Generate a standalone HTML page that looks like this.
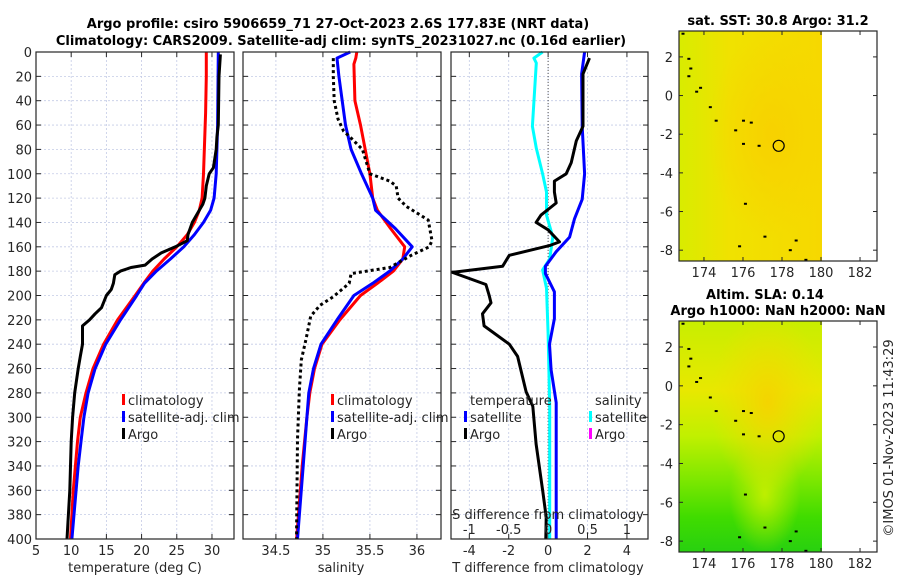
<!DOCTYPE html>
<html><head><meta charset="utf-8">
<style>
html,body{margin:0;padding:0;background:#fff;}
svg{display:block;font-family:"DejaVu Sans","Liberation Sans",sans-serif;}
</style></head>
<body>
<svg id="fig" width="900" height="580" viewBox="0 0 900 580" xmlns="http://www.w3.org/2000/svg">
<defs>
<linearGradient id="sstGrad" x1="0" y1="0" x2="1" y2="0">
<stop offset="0" stop-color="#d8ec00"/><stop offset="0.35" stop-color="#f0e200"/><stop offset="1" stop-color="#f6d800"/>
</linearGradient>
<radialGradient id="sstHot" cx="0.65" cy="0.45" r="0.45">
<stop offset="0" stop-color="#f8d000" stop-opacity="0.9"/><stop offset="1" stop-color="#f8d000" stop-opacity="0"/>
</radialGradient>
<linearGradient id="slaGrad" x1="0" y1="0" x2="0" y2="1">
<stop offset="0" stop-color="#c8ee00"/><stop offset="0.3" stop-color="#e8e800"/><stop offset="0.5" stop-color="#c0f000"/>
<stop offset="0.68" stop-color="#80e800"/><stop offset="0.85" stop-color="#40dc00"/><stop offset="1" stop-color="#28d010"/>
</linearGradient>
<radialGradient id="slaHot" cx="0.62" cy="0.35" r="0.4">
<stop offset="0" stop-color="#f4d400" stop-opacity="1"/><stop offset="1" stop-color="#f0e000" stop-opacity="0"/>
</radialGradient>
<radialGradient id="slaMid" cx="0.6" cy="0.75" r="0.25">
<stop offset="0" stop-color="#c8f000" stop-opacity="0.9"/><stop offset="1" stop-color="#c8f000" stop-opacity="0"/>
</radialGradient>
</defs>
<g id="layer"></g>
</svg>
<script>
// ---------- DATA ----------
const tempClimDepth = [0,20,50,100,120,130,140,150,160,170,180,190,200,220,240,260,280,300,320,340,360,380,400];
const tempClim      = [29.2,29.2,29.1,28.8,28.6,28.2,27.5,26.5,25,23.2,21.6,20.3,19.1,16.6,14.6,13.1,12.1,11.3,10.9,10.6,10.3,10.1,9.9];
const tempSatDepth  = [0,60,100,120,130,140,150,160,170,180,190,200,220,240,260,280,300,320,340,360,380,400];
const tempSat       = [30.9,30.8,30.6,30.3,29.8,28.8,27.5,26,24.1,22.1,20.4,19.3,17,14.9,13.4,12.4,11.8,11.4,11,10.7,10.4,10.1];
const tempArgoDepth = [2,20,60,70,80,95,100,110,120,125,130,140,150,155,160,165,170,175,177,180,183,190,195,200,210,215,220,225,240,250,260,280,300,320,340,360,380,400];
const tempArgo      = [31.2,31,30.9,30.7,30.6,30.2,29.6,29.2,29,28.7,28.2,27.2,26.6,26.5,24.8,22.8,21.5,20.5,18.5,17,16.2,16,15.7,15,14.3,13.4,12.6,11.6,11.6,11.3,11,10.5,10.2,10,9.9,9.8,9.6,9.4];

const salClimDepth = [0,5,10,40,60,80,100,120,130,145,155,160,170,180,190,200,220,240,260,280,300,340,400];
const salClim      = [35.36,35.35,35.33,35.34,35.4,35.45,35.5,35.53,35.58,35.72,35.82,35.87,35.85,35.75,35.58,35.4,35.18,34.99,34.91,34.86,34.83,34.78,34.72];
const salSatDepth  = [0,5,20,60,80,100,120,130,145,155,160,170,180,190,200,220,240,260,280,300,340,400];
const salSat       = [35.29,35.15,35.17,35.24,35.3,35.41,35.53,35.56,35.77,35.89,35.95,35.85,35.71,35.53,35.33,35.15,34.98,34.9,34.85,34.83,34.79,34.73];
const salArgoDepth = [5,20,40,55,65,70,80,90,100,106,110,120,127,138,155,160,167,177,182,190,201,208,217,236,253,277,318,392,400];
const salArgo      = [35.11,35.11,35.12,35.16,35.22,35.29,35.42,35.46,35.5,35.71,35.78,35.8,35.89,36.12,36.16,36.13,35.94,35.71,35.3,35.28,35.11,34.97,34.87,34.82,34.77,34.75,34.73,34.72,34.72];

const dtSatDepth  = [0,18,61,100,121,137,152,164,176,182,197,219,240,261,288,337,400];
const dtSat       = [1.85,1.7,1.73,1.85,1.73,1.34,1.09,0.41,-0.14,-0.14,0.32,0.32,0.07,0.15,0.41,0.41,0.41];
const dtArgoDepth = [5,18,61,73,91,100,106,115,124,134,140,146,156,159,167,176,181,191,200,206,215,225,240,250,279,291,322,361,382,400];
const dtArgo      = [2.1,1.77,1.77,1.43,1.17,0.92,0.32,0.32,0.41,-0.36,-0.61,0,0.58,0.07,-1.97,-2.31,-4.86,-3.16,-2.99,-2.9,-3.33,-3.25,-1.97,-1.55,-1.12,-0.78,-0.61,-0.27,-0.1,-0.12];
const dsSatDepth  = [0,5,9,61,79,100,115,134,152,170,179,194,231,291,400];
const dsSat       = [-0.07,-0.18,-0.15,-0.2,-0.15,-0.07,-0.02,-0.02,0.06,0.02,-0.07,-0.02,0,0.02,0.02];

const depthTicks = [0,20,40,60,80,100,120,140,160,180,200,220,240,260,280,300,320,340,360,380,400];
const tempTicks = [5,10,15,20,25,30];
const salTicks = [34.5,35,35.5,36];
const dtTicks = [-4,-2,0,2,4];
const dsTicks = [-1,-0.5,0,0.5,1];
const lonTicks = [174,176,178,180,182];
const latTicks = [2,0,-2,-4,-6,-8];

// ---------- HELPERS ----------
const NS='http://www.w3.org/2000/svg';
const L=document.getElementById('layer');
function mk(tag,attrs,parent){const e=document.createElementNS(NS,tag);for(const k in attrs)e.setAttribute(k,attrs[k]);(parent||L).appendChild(e);return e;}
function txt(s,x,y,size,anchor,weight,parent){const t=mk('text',{x:x,y:y,'font-size':size,'text-anchor':anchor||'middle','font-weight':weight||'normal',fill:weight==='bold'?'#000':'#262626'},parent);t.textContent=s;return t;}

const TOP=52,BOT=539;
function yD(d){return TOP+(d/400)*(BOT-TOP);}

function panel(name,x0,x1,vmin,vmax,ticks,showDepthLabels){
  const g=mk('g',{});
  
  
  mk('rect',{x:x0,y:TOP,width:x1-x0,height:BOT-TOP,fill:'#fff'},g);
  const xs=v=>x0+(v-vmin)/(vmax-vmin)*(x1-x0);
  depthTicks.forEach(d=>{
    const y=yD(d);
    if(d>0&&d<400) mk('line',{x1:x0,x2:x1,y1:y,y2:y,stroke:'#c4cbe6','stroke-width':0.8,'stroke-dasharray':'2,2'},g);
    mk('line',{x1:x0,x2:x0+5,y1:y,y2:y,stroke:'#262626','stroke-width':1},g);
    mk('line',{x1:x1-5,x2:x1,y1:y,y2:y,stroke:'#262626','stroke-width':1},g);
    if(showDepthLabels){const t=txt(String(d),x0-4,y+5,13,'end',null,g);}
  });
  ticks.forEach(v=>{
    const x=xs(v);
    mk('line',{x1:x,x2:x,y1:TOP,y2:BOT,stroke:'#c4cbe6','stroke-width':0.8,'stroke-dasharray':'2,2'},g);
    mk('line',{x1:x,x2:x,y1:BOT,y2:BOT-5,stroke:'#262626','stroke-width':1},g);
    mk('line',{x1:x,x2:x,y1:TOP,y2:TOP+5,stroke:'#262626','stroke-width':1},g);
  });
  return {g,xs,x0,x1};
}
function frame(p){mk('rect',{x:p.x0,y:TOP,width:p.x1-p.x0,height:BOT-TOP,fill:'none',stroke:'#262626','stroke-width':1.2},p.g);}
function line(p,depths,vals,color,name,dash){
  const pts=depths.map((d,i)=>p.xs(vals[i]).toFixed(1)+','+yD(d).toFixed(1)).join(' ');
  const e=mk('polyline',{points:pts,fill:'none',stroke:color,'stroke-width':3,'stroke-linejoin':'round'},p.g);
  if(dash){e.setAttribute('stroke-dasharray',dash);}
  
  
  return e;
}
function legendEntry(g,x,y,color,label,name){
  mk('rect',{x:x,y:y-11,width:3,height:11,fill:color},g);
  const t=txt(label,x+6,y,13,'start',null,g);
  
  
}
function xTickLabels(p,ticks,y){
  ticks.forEach(v=>{const t=txt(String(v),p.xs(v),y,13,'middle',null,p.g);});
}

// ---------- PANEL 1: temperature ----------
const p1=panel('temperature-panel',36,234,5,33.13,tempTicks,true);
line(p1,tempClimDepth,tempClim,'#ff0000','temp-climatology-line');
line(p1,tempSatDepth,tempSat,'#0000ff','temp-satellite-line');
line(p1,tempArgoDepth,tempArgo,'#000000','temp-argo-line');
frame(p1);
xTickLabels(p1,tempTicks,555);
legendEntry(p1.g,122,405,'#ff0000','climatology','legend-climatology');
legendEntry(p1.g,122,422,'#0000ff','satellite-adj. clim','legend-satellite');
legendEntry(p1.g,122,439,'#000000','Argo','legend-argo');
{const t=txt('temperature (deg C)',135,572,13);}

// ---------- PANEL 2: salinity ----------
const p2=panel('salinity-panel',243,441,34.15,36.256,salTicks,false);
line(p2,salClimDepth,salClim,'#ff0000','sal-climatology-line');
line(p2,salSatDepth,salSat,'#0000ff','sal-satellite-line');
line(p2,salArgoDepth,salArgo,'#000000','sal-argo-line','3,3');
frame(p2);
xTickLabels(p2,salTicks,555);
legendEntry(p2.g,331,405,'#ff0000','climatology','legend-climatology');
legendEntry(p2.g,331,422,'#0000ff','satellite-adj. clim','legend-satellite');
legendEntry(p2.g,331,439,'#000000','Argo','legend-argo');
{const t=txt('salinity',341,572,13);}

// ---------- PANEL 3: differences ----------
const p3=panel('difference-panel',451,648,-4.93,5.07,dtTicks,false);
const dsScale=v=>v*4;
mk('line',{x1:p3.xs(0),x2:p3.xs(0),y1:TOP,y2:BOT,stroke:'#555','stroke-width':1,'stroke-dasharray':'1,2'},p3.g);
line(p3,dsSatDepth,dsSat.map(dsScale),'#00ffff','sal-diff-satellite-line');
line(p3,dtSatDepth,dtSat,'#0000ff','temp-diff-satellite-line');
line(p3,dtArgoDepth,dtArgo,'#000000','temp-diff-argo-line');
frame(p3);
xTickLabels(p3,dtTicks,555);
dsTicks.forEach(v=>{const t=txt(String(v),p3.xs(v*4),534,13,'middle',null,p3.g);});
{const t=txt('S difference from climatology',548,519,13);}
{const t=txt('T difference from climatology',548,572,13);}
{const t=txt('temperature',470,405,13,'start',null,p3.g);}
{const t=txt('salinity',595,405,13,'start',null,p3.g);}
legendEntry(p3.g,464,422,'#0000ff','satellite','legend-temp-satellite');
legendEntry(p3.g,464,439,'#000000','Argo','legend-temp-argo');
legendEntry(p3.g,589,422,'#00ffff','satellite','legend-sal-satellite');
legendEntry(p3.g,589,439,'#ff00ff','Argo','legend-sal-argo');

// ---------- TITLE ----------
{const t=txt('Argo profile: csiro 5906659_71 27-Oct-2023 2.6S 177.83E (NRT data)',338,28,13,'middle','bold');}
{const t=txt('Climatology: CARS2009. Satellite-adj clim: synTS_20231027.nc (0.16d earlier)',341,45,13,'middle','bold');}

// ---------- MAPS ----------
const floatLon=[177.83], floatLat=[-2.6];
const coastLon=[172.9,173.2,173.3,173.2,173.6,173.8,174.3,174.6,175.6,176,176.4,176.8,176.1,177.1,178.4,178.7,179.2,176,175.8];
const coastLat=[3.2,1.9,1.4,1.0,0.2,0.4,-0.6,-1.3,-1.8,-1.3,-1.4,-2.6,-5.6,-7.3,-8.0,-7.5,-8.5,-2.5,-7.8];
function map(name,top,bot,fillIds,title){
  const g=mk('g',{});
  
  
  const x0=679,x1=877,lonMin=172.72,lonMax=182.87;
  const lat2y=(bot-top)/11.9;
  const xs=v=>x0+(v-lonMin)/(lonMax-lonMin)*(x1-x0);
  const ys=v=>top+(3.34-v)*lat2y;
  fillIds.forEach(id=>mk('rect',{x:x0,y:top,width:xs(180.05)-x0,height:bot-top,fill:'url(#'+id+')'},g));
  coastLon.forEach((lo,i)=>{mk('rect',{x:xs(lo)-1,y:ys(coastLat[i])-1,width:3,height:2,fill:'#000'},g);});
  floatLon.forEach((lo,i)=>{const c=mk('circle',{cx:xs(lo),cy:ys(floatLat[i]),r:5.5,fill:'none',stroke:'#000','stroke-width':1.2},g);});
  mk('rect',{x:x0,y:top,width:x1-x0,height:bot-top,fill:'none',stroke:'#262626','stroke-width':1.2},g);
  lonTicks.forEach(v=>{const x=xs(v);mk('line',{x1:x,x2:x,y1:bot,y2:bot-4,stroke:'#262626'},g);mk('line',{x1:x,x2:x,y1:top,y2:top+4,stroke:'#262626'},g);
    const t=txt(String(v),x,bot+16,13,'middle',null,g);});
  latTicks.forEach(v=>{const y=ys(v);mk('line',{x1:x0,x2:x0+4,y1:y,y2:y,stroke:'#262626'},g);mk('line',{x1:x1-4,x2:x1,y1:y,y2:y,stroke:'#262626'},g);
    const t=txt(String(v),x0-6,y+5,13,'end',null,g);});
  title.forEach((s,i)=>{const t=txt(s,s.length>20?778:765,top-(title.length-1-i)*16-6,13,'middle','bold',g);});
}
map('sst-map',31,261,['sstGrad','sstHot'],['sat. SST: 30.8 Argo: 31.2']);
map('sla-map',321,552,['slaGrad','slaMid','slaHot'],['Altim. SLA: 0.14','Argo h1000: NaN h2000: NaN']);
{const t=txt('©IMOS 01-Nov-2023 11:43:29',0,0,13,'middle');t.setAttribute('transform','translate(893,438) rotate(-90)');}
</script>
</body></html>
